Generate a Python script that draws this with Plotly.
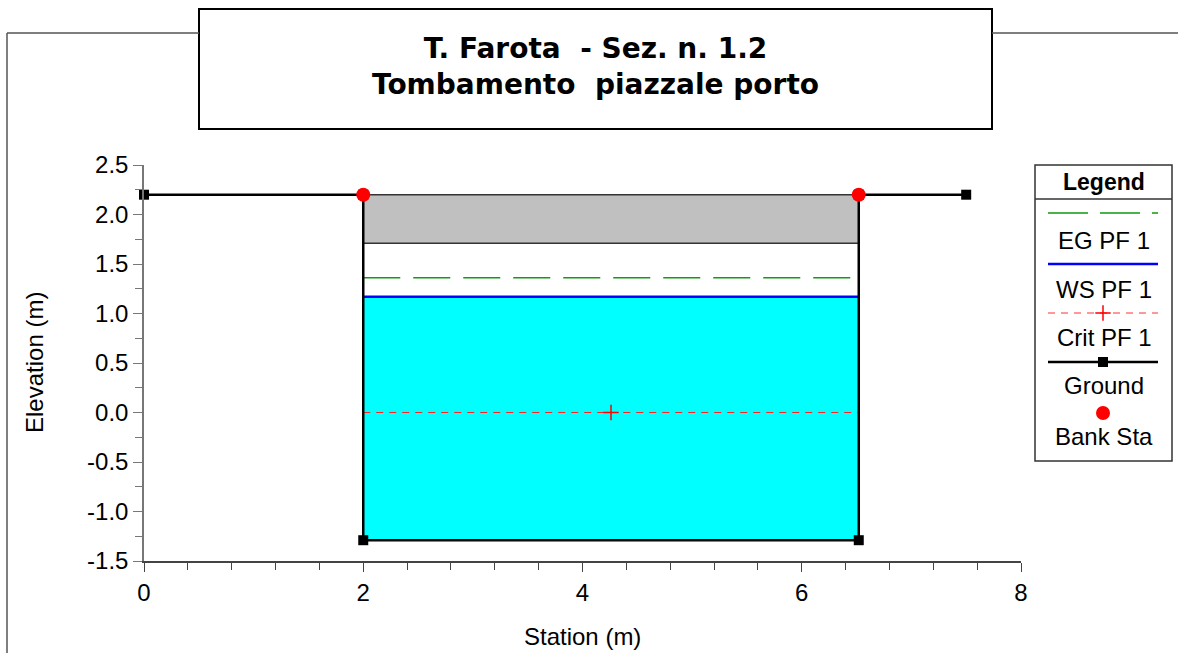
import plotly.graph_objects as go

# Cross-section geometry (station, elevation)
ground_x = [0.0, 2.0, 2.0, 6.52, 6.52, 7.5]
ground_y = [2.2, 2.2, -1.29, -1.29, 2.2, 2.2]
bank_x = [2.0, 6.52]
bank_y = [2.2, 2.2]

# Deck obstruction (top / bottom elevation)
deck_top = 2.2
deck_bottom = 1.71

# Profile PF 1 results
eg_elev = 1.36
ws_elev = 1.17
crit_elev = 0.0

# Axis ticks
x_ticks = [0, 2, 4, 6, 8]
y_ticks = [-1.5, -1.0, -0.5, 0.0, 0.5, 1.0, 1.5, 2.0, 2.5]
y_tick_labels = ["-1.5", "-1.0", "-0.5", "0.0", "0.5", "1.0", "1.5", "2.0", "2.5"]

W, H = 1178, 653


def PX(p):
    return p / W


def PY(p):
    return 1 - p / H


AXIS_FONT = dict(family="Liberation Sans, Arial", size=24, color="black")

left, right = bank_x[0], bank_x[1]
bed = min(ground_y)

fig = go.Figure()

# water body
fig.add_trace(go.Scatter(
    x=[left, right, right, left, left], y=[ws_elev, ws_elev, bed, bed, ws_elev],
    fill="toself", fillcolor="#00FFFF", line=dict(width=0), mode="lines",
    hoverinfo="skip"))
# deck
fig.add_trace(go.Scatter(
    x=[left, right, right, left, left],
    y=[deck_top, deck_top, deck_bottom, deck_bottom, deck_top],
    fill="toself", fillcolor="#C0C0C0", line=dict(color="#333333", width=1.5),
    mode="lines", hoverinfo="skip"))
# energy grade
fig.add_trace(go.Scatter(x=[left, right], y=[eg_elev, eg_elev], mode="lines",
                         line=dict(color="#119911", width=1.5, dash="37px,13px")))
# water surface
fig.add_trace(go.Scatter(x=[left, right], y=[ws_elev, ws_elev], mode="lines",
                         line=dict(color="#0000FF", width=2.5)))
# critical depth
fig.add_trace(go.Scatter(x=[left, right], y=[crit_elev, crit_elev], mode="lines",
                         line=dict(color="#FF2020", width=1.2, dash="7px,6px")))
fig.add_trace(go.Scatter(x=[(left + right) / 2], y=[crit_elev], mode="markers",
                         marker=dict(symbol="cross-thin", size=11,
                                     line=dict(color="#FF0000", width=1.5))))
# ground
fig.add_trace(go.Scatter(x=ground_x, y=ground_y, mode="lines+markers",
                         line=dict(color="black", width=2.5), cliponaxis=False,
                         marker=dict(symbol="square", size=10, color="black")))
# bank stations
fig.add_trace(go.Scatter(x=bank_x, y=bank_y, mode="markers", cliponaxis=False,
                         marker=dict(symbol="circle", size=14, color="#FF0000")))

# ---- legend glyphs on a pixel-space overlay axis ----
lx0, lx1 = 1048, 1158
lmid = (lx0 + lx1) / 2
leg = dict(xaxis="x2", yaxis="y2", hoverinfo="skip", cliponaxis=False)
fig.add_trace(go.Scatter(x=[lx0, lx1], y=[213, 213], mode="lines",
                         line=dict(color="#119911", width=1.5, dash="40px,12px"), **leg))
fig.add_trace(go.Scatter(x=[lx0, lx1], y=[264, 264], mode="lines",
                         line=dict(color="#0000FF", width=2.5), **leg))
fig.add_trace(go.Scatter(x=[lx0, lx1], y=[313, 313], mode="lines",
                         line=dict(color="#FF3030", width=1.0, dash="7px,6px"), **leg))
fig.add_trace(go.Scatter(x=[lmid], y=[313], mode="markers",
                         marker=dict(symbol="cross-thin", size=11,
                                     line=dict(color="#FF0000", width=1.5)), **leg))
fig.add_trace(go.Scatter(x=[lx0, lmid, lx1], y=[362, 362, 362], mode="lines",
                         line=dict(color="black", width=2.5), **leg))
fig.add_trace(go.Scatter(x=[lmid], y=[362], mode="markers",
                         marker=dict(symbol="square", size=10, color="black"), **leg))
fig.add_trace(go.Scatter(x=[lmid], y=[413], mode="markers",
                         marker=dict(symbol="circle", size=14, color="#FF0000"), **leg))

legend_labels = [("EG PF 1", 240), ("WS PF 1", 289), ("Crit PF 1", 337),
                 ("Ground", 386), ("Bank Sta", 436)]


def label(text, x, y, font, **kw):
    return dict(text=text, x=PX(x), y=PY(y), xref="paper", yref="paper",
                xanchor="center", yanchor="middle", showarrow=False, font=font, **kw)


annotations = [
    label("T. Farota  - Sez. n. 1.2<br>Tombamento  piazzale porto", 595, 66,
          dict(family="DejaVu Sans", size=28, color="black", weight="bold"), align="center"),
    label("Station (m)", 582, 636, AXIS_FONT),
    label("Elevation (m)", 34, 363, AXIS_FONT, textangle=-90),
    label("Legend", 1104, 182,
          dict(family="Liberation Sans, Arial", size=23, color="black", weight="bold")),
]
for txt, yy in legend_labels:
    annotations.append(label(txt, 1104, yy, AXIS_FONT))

frame = dict(color="#555555", width=1.5)
shapes = [
    # outer frame (partially visible)
    dict(type="line", xref="paper", yref="paper", x0=PX(7), x1=PX(7), y0=PY(33), y1=PY(653), line=frame),
    dict(type="line", xref="paper", yref="paper", x0=PX(7), x1=PX(199), y0=PY(33), y1=PY(33), line=frame),
    dict(type="line", xref="paper", yref="paper", x0=PX(992), x1=PX(1178), y0=PY(33), y1=PY(33), line=frame),
    # title box
    dict(type="rect", xref="paper", yref="paper", x0=PX(199), x1=PX(992), y0=PY(129), y1=PY(9),
         line=dict(color="black", width=2), fillcolor="white", layer="below"),
    # legend box
    dict(type="rect", xref="paper", yref="paper", x0=PX(1035), x1=PX(1172), y0=PY(461), y1=PY(165),
         line=dict(color="#333333", width=1.5), fillcolor="rgba(0,0,0,0)", layer="below"),
    dict(type="line", xref="paper", yref="paper", x0=PX(1035), x1=PX(1172), y0=PY(199), y1=PY(199),
         line=dict(color="#333333", width=1.5)),
]

fig.update_layout(
    width=W, height=H, margin=dict(l=0, r=0, t=0, b=0),
    paper_bgcolor="white", plot_bgcolor="white", showlegend=False,
    annotations=annotations, shapes=shapes,
    xaxis=dict(domain=[PX(144), PX(1021)], range=[0, 8], tickvals=x_ticks,
               ticks="outside", ticklen=9, tickcolor="#444444", showline=True,
               linecolor="#444444", linewidth=1.5, showgrid=False, zeroline=False,
               tickfont=AXIS_FONT, automargin=False,
               minor=dict(dtick=0.4, tick0=0, ticks="outside", ticklen=7, tickcolor="#444444")),
    yaxis=dict(domain=[PY(561), PY(165)], range=[-1.5, 2.5], tickvals=y_ticks,
               ticktext=y_tick_labels, ticks="outside", ticklen=9, tickcolor="#777777",
               showline=True, linecolor="#777777", linewidth=1.5, showgrid=False,
               zeroline=False, tickfont=AXIS_FONT, automargin=False,
               minor=dict(dtick=0.25, tick0=0, ticks="outside", ticklen=7, tickcolor="#777777")),
    xaxis2=dict(domain=[PX(1035), PX(1172)], range=[1035, 1172], visible=False,
                anchor="y2", fixedrange=True),
    yaxis2=dict(domain=[PY(461), PY(165)], range=[461, 165], visible=False,
                anchor="x2", fixedrange=True),
)

fig.write_html("out.html")
